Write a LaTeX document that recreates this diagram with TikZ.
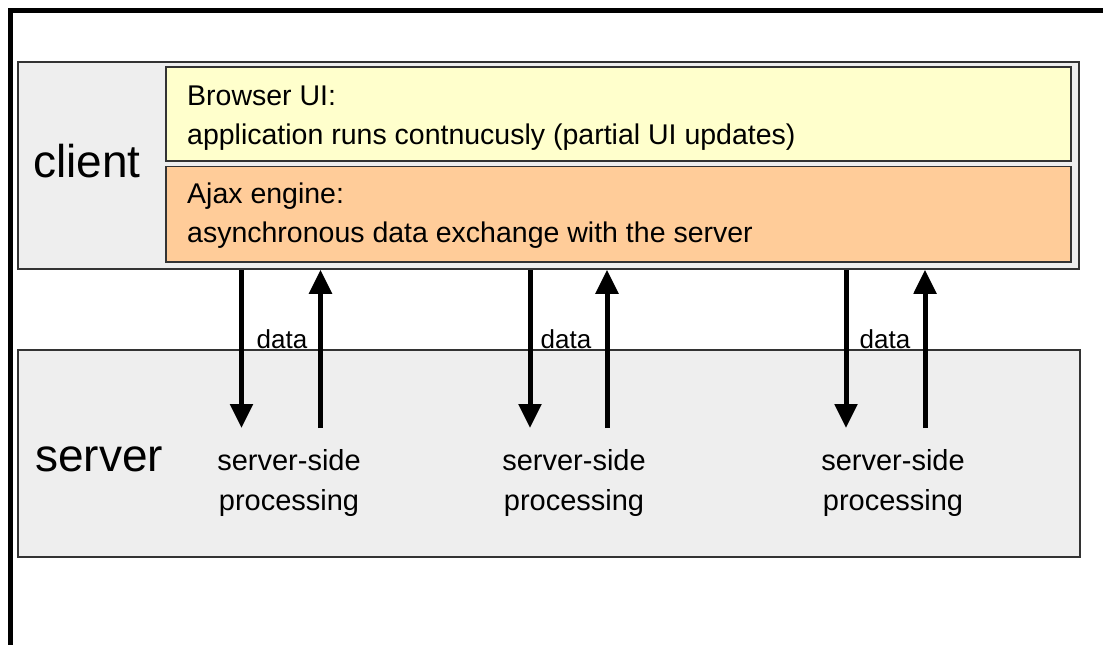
\documentclass[tikz,border=0pt]{standalone}
\usepackage{fontspec}
\setmainfont{Liberation Sans}
\usetikzlibrary{arrows.meta,fit}

\definecolor{clientgray}{RGB}{238,238,238}
\definecolor{uiyellow}{RGB}{255,255,204}
\definecolor{ajaxorange}{RGB}{255,204,153}

\tikzset{
  panel/.style={draw=black!80, line width=1.5pt, inner sep=0pt},
  flow/.style={line width=5pt, -{Triangle[width=22pt,length=24pt]}},
  boxtext/.style={anchor=north west, inner sep=0pt, align=left, font=\fontsize{28.5}{39}\selectfont},
  sidetext/.style={anchor=base west, inner sep=0pt, font=\fontsize{46}{50}\selectfont},
  datatext/.style={anchor=base, inner sep=0pt, font=\fontsize{26}{30}\selectfont},
  proctext/.style={anchor=north, inner sep=0pt, align=center, font=\fontsize{29}{40}\selectfont},
}

\begin{document}
\begin{tikzpicture}[x=1pt, y=1pt, yscale=-1]
\useasboundingbox (0,0) rectangle (1103,645);
\fill[white] (0,0) rectangle (1103,645);
\draw[line width=4.5pt] (8,10.5) -- (1103,10.5);
\draw[line width=5pt] (10,8) -- (10,645);

\node[panel, fill=clientgray, fit={(18,62) (1079,269)}] (client) {};
\node[panel, fill=uiyellow, fit={(166,67) (1071,161)}] (ui) {};
\node[panel, fill=ajaxorange, fit={(166,166.5) (1071,262)}] (ajax) {};
\node[panel, fill=clientgray, fit={(18,350) (1080,557)}] (server) {};

\node[sidetext] (clientlbl) at (33,177) {client};
\node[sidetext] (serverlbl) at (35,471) {server};

\node[boxtext] (uitext) at (187,86) {Browser UI:\\application runs contnucusly (partial UI updates)};
\node[boxtext] (ajaxtext) at (187,183) {Ajax engine:\\asynchronous data exchange with the server};

\coordinate (down1) at (241.5,428);
\coordinate (up1) at (320.5,428);
\coordinate (down2) at (530,428);
\coordinate (up2) at (607,428);
\coordinate (down3) at (846,428);
\coordinate (up3) at (925,428);

\draw[flow] (client.south -| down1) -- (down1);
\draw[flow] (up1) -- (client.south -| up1);
\draw[flow] (client.south -| down2) -- (down2);
\draw[flow] (up2) -- (client.south -| up2);
\draw[flow] (client.south -| down3) -- (down3);
\draw[flow] (up3) -- (client.south -| up3);

\node[datatext] (data1) at (282,348) {data};
\node[datatext] (data2) at (566,348) {data};
\node[datatext] (data3) at (885,348) {data};

\node[proctext] (proc1) at (289,449) {server-side\\processing};
\node[proctext] (proc2) at (574,449) {server-side\\processing};
\node[proctext] (proc3) at (893,449) {server-side\\processing};
\end{tikzpicture}
\end{document}
